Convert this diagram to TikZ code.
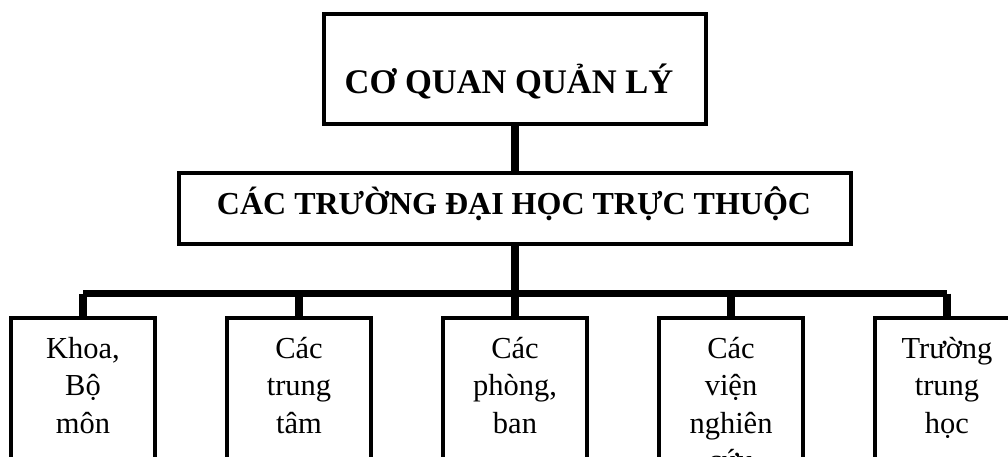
\documentclass[tikz,border=0pt]{standalone}
\usepackage{fontspec}
\setmainfont{Liberation Serif}
\newcommand{\lines}[1]{\setlength{\tabcolsep}{0pt}\begin{tabular}[t]{c}#1\end{tabular}}
\begin{document}
\begin{tikzpicture}[x=1pt,y=-1pt,
  box/.style={draw=black,line width=4pt,fill=white,inner sep=0pt,rectangle},
  subbox/.style={box,minimum width=144pt,minimum height=166pt},
  toptext/.style={anchor=base,font=\fontsize{34.5}{40}\selectfont\bfseries,inner sep=0pt},
  midtext/.style={anchor=base,font=\fontsize{32}{38}\selectfont\bfseries,inner sep=0pt},
  subtext/.style={anchor=base,font=\fontsize{30.5}{37.5}\selectfont,inner sep=0pt},
  conn/.style={line width=8pt,line cap=butt},
  busline/.style={line width=7pt,line cap=butt}]
\useasboundingbox (0,0) rectangle (1008,456);
\clip (0,0) rectangle (1008,456);
\fill[white] (0,0) rectangle (1008,456);
% boxes
\node[box,minimum width=382pt,minimum height=110pt] (top) at (515,69) {};
\node[box,minimum width=672pt,minimum height=71pt] (mid) at (515,208.5) {};
\node[subbox] (k1) at (83,401) {};
\node[subbox] (k2) at (299,401) {};
\node[subbox] (k3) at (515,401) {};
\node[subbox] (k4) at (731,401) {};
\node[subbox] (k5) at (947,401) {};
% texts
\node[toptext] (ttop) at (509,93) {CƠ QUAN QUẢN LÝ};
\node[midtext] (tmid) at (514,214) {CÁC TRƯỜNG ĐẠI HỌC TRỰC THUỘC};
\node[subtext] (t1) at (83,358) {\lines{Khoa,\\Bộ\\môn}};
\node[subtext] (t2) at (299,358) {\lines{Các\\trung\\tâm}};
\node[subtext] (t3) at (515,358) {\lines{Các\\phòng,\\ban}};
\node[subtext] (t4) at (731,358) {\lines{Các\\viện\\nghiên\\cứu}};
\node[subtext] (t5) at (947,358) {\lines{Trường\\trung\\học}};
% connectors
\coordinate (bus) at (515,293.5);
\draw[conn] (top.south) -- (mid.north);
\draw[conn] (mid.south) -- (k3.north);
\draw[busline] (k1.north |- bus) -- (k5.north |- bus);
\foreach \k in {k1,k2,k4,k5} {
  \draw[conn] (\k.north |- bus) -- (\k.north);
}
\end{tikzpicture}
\end{document}
